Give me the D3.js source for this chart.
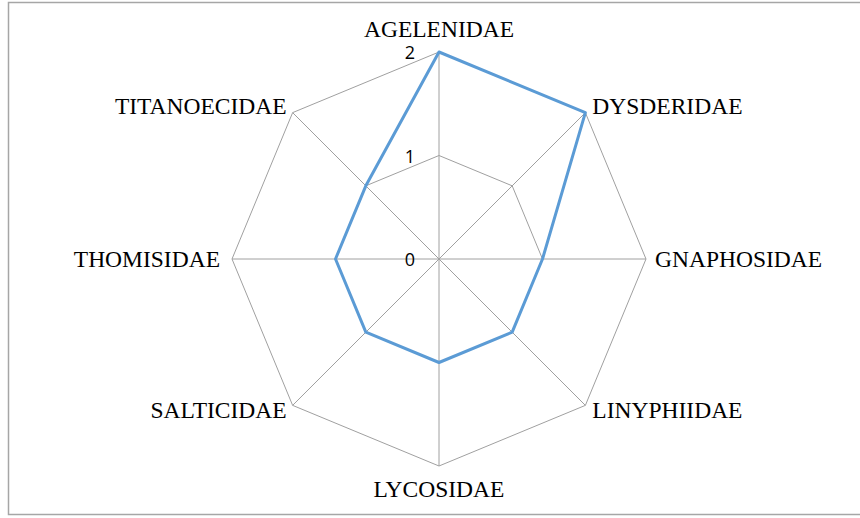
<!DOCTYPE html>
<html>
<head>
<meta charset="utf-8">
<script src="https://cdn.jsdelivr.net/npm/d3@7/dist/d3.min.js"></script>
<style>
  html, body { margin: 0; padding: 0; background: #fff; }
  svg { display: block; }
</style>
</head>
<body>
<svg id="chart" width="860" height="518"></svg>
<script>
// Family names around the radar, clockwise from the top
const categories = ["AGELENIDAE", "DYSDERIDAE", "GNAPHOSIDAE", "LINYPHIIDAE",
                    "LYCOSIDAE", "SALTICIDAE", "THOMISIDAE", "TITANOECIDAE"];
// Count per family
const values = [2, 2, 1, 1, 1, 1, 1, 1];
// Radial tick values
const ticks = [0, 1, 2];

const svg = d3.select("#chart");
const W = 860, H = 518;
const cx = 439, cy = 259, R = 207;

// Outer frame
svg.append("rect")
  .attr("x", 8.5).attr("y", 2.5)
  .attr("width", W + 10).attr("height", 512)
  .attr("fill", "#fff").attr("stroke", "#a6a6a6").attr("stroke-width", 1.5);

const r = d3.scaleLinear().domain([0, 2]).range([0, R]);
const angle = d3.scaleBand().domain(categories).range([0, 2 * Math.PI]).align(0).paddingInner(0).paddingOuter(0);
const ang = c => angle(c) - Math.PI / 2;
const px = (c, v) => cx + r(v) * Math.cos(ang(c));
const py = (c, v) => cy + r(v) * Math.sin(ang(c));

const g = svg.append("g");

// Spokes
g.selectAll("line.spoke").data(categories).join("line")
  .attr("class", "spoke")
  .attr("x1", cx).attr("y1", cy)
  .attr("x2", d => px(d, 2)).attr("y2", d => py(d, 2))
  .attr("stroke", "#a0a0a0").attr("stroke-width", 1);

// Grid polygons
g.selectAll("polygon.ring").data(ticks.filter(t => t > 0)).join("polygon")
  .attr("class", "ring")
  .attr("points", t => categories.map(c => [px(c, t), py(c, t)].join(",")).join(" "))
  .attr("fill", "none").attr("stroke", "#a0a0a0").attr("stroke-width", 1);

// Tick labels
g.selectAll("text.tick").data(ticks).join("text")
  .attr("class", "tick")
  .attr("x", cx - 24)
  .attr("y", t => cy - r(t) + 7)
  .attr("text-anchor", "end")
  .attr("font-family", "'Open Sans', 'Liberation Sans', sans-serif")
  .attr("font-size", 18)
  .attr("fill", "#000")
  .text(t => t);

// Data line
const line = d3.lineRadial()
  .angle(d => angle(d.c))
  .radius(d => r(d.v))
  .curve(d3.curveLinearClosed);
g.append("path")
  .datum(categories.map((c, i) => ({ c, v: values[i] })))
  .attr("transform", `translate(${cx},${cy})`)
  .attr("d", line)
  .attr("fill", "none")
  .attr("stroke", "#5b9bd5")
  .attr("stroke-width", 3)
  .attr("stroke-linejoin", "round");

// Category labels
const labelPos = {
  "AGELENIDAE":   { dx: 0,   dy: -15, anchor: "middle" },
  "DYSDERIDAE":   { dx: 7,   dy: 1,   anchor: "start" },
  "GNAPHOSIDAE":  { dx: 9,   dy: 8,   anchor: "start" },
  "LINYPHIIDAE":  { dx: 7,   dy: 13,  anchor: "start" },
  "LYCOSIDAE":    { dx: 0,   dy: 31,  anchor: "middle" },
  "SALTICIDAE":   { dx: -6,  dy: 13,  anchor: "end" },
  "THOMISIDAE":   { dx: -12, dy: 8,   anchor: "end" },
  "TITANOECIDAE": { dx: -6,  dy: 1,   anchor: "end" }
};
g.selectAll("text.cat").data(categories).join("text")
  .attr("class", "cat")
  .attr("x", d => px(d, 2) + labelPos[d].dx)
  .attr("y", d => py(d, 2) + labelPos[d].dy)
  .attr("text-anchor", d => labelPos[d].anchor)
  .attr("font-family", "'Liberation Serif', 'Times New Roman', serif")
  .attr("font-size", 23.5)
  .attr("fill", "#000")
  .text(d => d);
</script>
</body>
</html>
